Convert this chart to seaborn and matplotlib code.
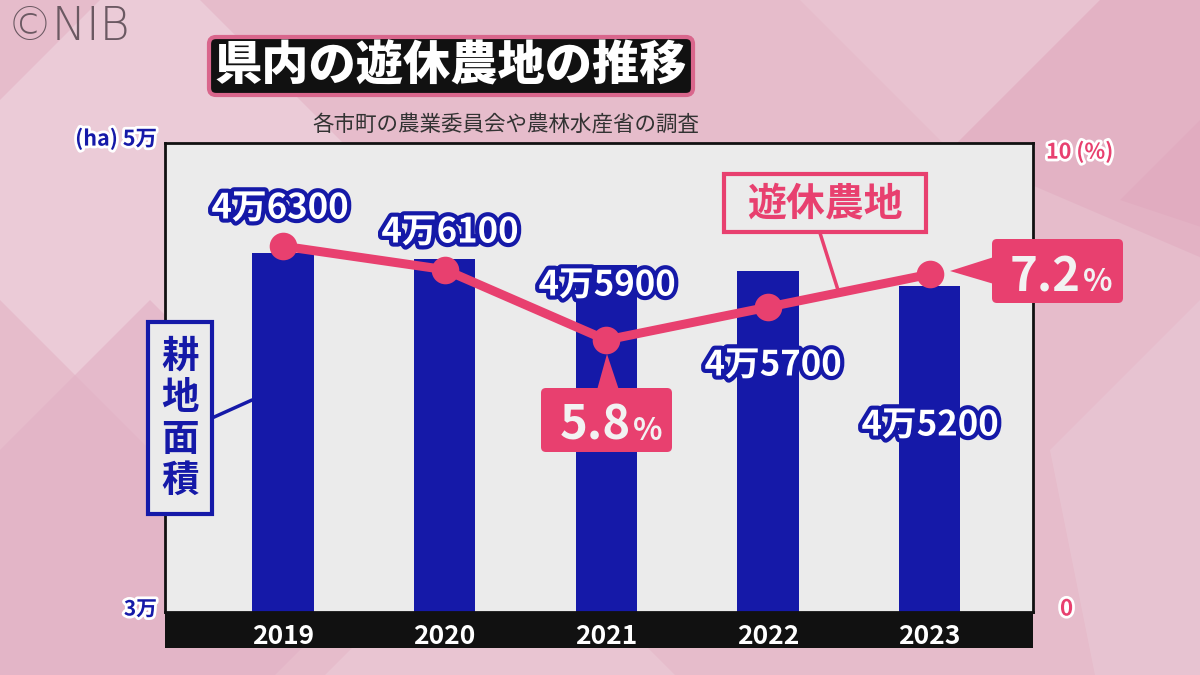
import numpy as np
import pandas as pd
import matplotlib
matplotlib.use("Agg")
import matplotlib.pyplot as plt
import seaborn as sns
from matplotlib.patches import FancyBboxPatch, Polygon, Rectangle
import matplotlib.patheffects as pe

# ---- data ----
years = ["2019", "2020", "2021", "2022", "2023"]
area_ha = [46300, 46100, 45900, 45700, 45200]
area_labels = ["4万6300", "4万6100", "4万5900", "4万5700", "4万5200"]
idle_rate = [7.8, 7.3, 5.8, 6.5, 7.2]

title = "県内の遊休農地の推移"
subtitle = "各市町の農業委員会や農林水産省の調査"

sns.set_theme(style="white")
plt.rcParams["font.family"] = ["Noto Sans CJK JP", "DejaVu Sans"]

W, H = 1200, 675
fig = plt.figure(figsize=(12, 6.75), dpi=100)
fig.patch.set_facecolor("#e6bccb")

BLUE = "#1519a8"
PINK = "#e8406f"

# ---- background texture ----
bg = fig.add_axes([0, 0, 1, 1], zorder=-5)
bg.set_xlim(0, W)
bg.set_ylim(H, 0)
bg.axis("off")
shapes = [
    ([(-100, 200), (150, -50), (400, 200), (150, 450)], "#edd0db", 0.8),
    ([(700, -100), (950, 150), (1200, -100)], "#e9c3d1", 0.9),
    ([(950, 150), (1200, -100), (1300, 0), (1300, 300)], "#e2aec2", 0.7),
    ([(1050, 450), (1300, 200), (1300, 700), (1100, 700)], "#e8c6d3", 0.8),
    ([(-50, 500), (150, 300), (400, 550), (250, 700), (0, 700)], "#e3b3c6", 0.7),
    ([(300, 700), (500, 500), (700, 700)], "#ecccd8", 0.6),
    ([(1120, 200), (1250, 70), (1300, 120), (1300, 260)], "#e0a9be", 0.6),
]
for pts, c, a in shapes:
    bg.add_patch(Polygon(pts, closed=True, facecolor=c, edgecolor="none", alpha=a))

# ---- main chart ----
df = pd.DataFrame({"year": years, "area": area_ha, "rate": idle_rate})

L, R, T, B = 165, 1033, 143, 612
ax = fig.add_axes([L / W, (H - B) / H, (R - L) / W, (B - T) / H])
sns.barplot(data=df, x="year", y="area", color=BLUE, saturation=1,
            width=0.38, ax=ax, zorder=2, linewidth=0, edgecolor="none")
ax.set_facecolor("#ebebeb")
ax.set_ylim(34250, 50000)
ax.set_yticks([])
ax.set_xlabel("")
ax.set_ylabel("")
for s in ax.spines.values():
    s.set_color("#111111")
    s.set_linewidth(2)

ax2 = ax.twinx()
sns.pointplot(data=df, x="year", y="rate", color=PINK, ax=ax2,
              markers="o", markersize=15, linewidth=6.5, zorder=5)
ax2.set_ylim(0, 10)
ax2.set_yticks([])
ax2.set_ylabel("")
ax2.set_xlabel("")
for s in ax2.spines.values():
    s.set_visible(False)
ax.set_xlim(-0.73, 4.64)
ax2.set_xlim(-0.73, 4.64)
ax.tick_params(axis="x", length=0, pad=8, labelcolor="white", labelsize=19)
for lab in ax.get_xticklabels():
    lab.set_fontweight("bold")

# black year band
band_h = 36 / (B - T)
ax.add_patch(Rectangle((0, -band_h), 1, band_h, transform=ax.transAxes,
                       facecolor="#111111", edgecolor="none", clip_on=False, zorder=0.5))

# ---- overlay for annotations (pixel coordinates) ----
ov = fig.add_axes([0, 0, 1, 1], zorder=10)
ov.set_xlim(0, W)
ov.set_ylim(H, 0)
ov.axis("off")
ov.patch.set_alpha(0)

# logo
ov.text(7, 27, "©NIB", fontsize=33, color="#6b5962", va="center", ha="left",
        family=["DejaVu Sans"], fontweight="light")

# title box
ov.add_patch(FancyBboxPatch((209, 37), 484, 58, boxstyle="round,pad=0,rounding_size=7",
                            facecolor="#111111", edgecolor="#d9668c", linewidth=3))
ov.text(451, 66, title, fontsize=34, fontweight="heavy", color="white",
        ha="center", va="center")
ov.text(506, 125, subtitle, fontsize=15.5, color="#333333", ha="center", va="center")

# axis end labels
blue_fx = [pe.withStroke(linewidth=4, foreground="white")]
ov.text(157, 139, "(ha) 5万", fontsize=15.5, fontweight="bold", color=BLUE,
        ha="right", va="center", path_effects=blue_fx)
ov.text(157, 609, "3万", fontsize=15, fontweight="bold", color=BLUE,
        ha="right", va="center", path_effects=blue_fx)
ov.text(1046, 152, "10 (%)", fontsize=15.5, fontweight="bold", color=PINK,
        ha="left", va="center", path_effects=blue_fx)
ov.text(1060, 609, "0", fontsize=16, fontweight="bold", color=PINK,
        ha="left", va="center", path_effects=blue_fx)

# bar value labels
lab_pos = [(280, 208), (450, 232), (607, 285), (773, 365), (930, 425)]
lab_fx = [pe.withStroke(linewidth=6, foreground=BLUE)]
for (x, y), t in zip(lab_pos, area_labels):
    ov.text(x, y, t, fontsize=25, fontweight="bold", color="white",
            ha="center", va="center", path_effects=lab_fx)

# 5.8% callout
ov.add_patch(Polygon([(597, 390), (619, 390), (607, 354)], closed=True,
                     facecolor=PINK, edgecolor="none"))
ov.add_patch(FancyBboxPatch((541, 388), 131, 64, boxstyle="round,pad=0,rounding_size=5",
                            facecolor=PINK, edgecolor="none"))
ov.text(631, 440, f"{idle_rate[2]}", fontsize=34, fontweight="bold", color="#f2f2f2",
        ha="right", va="baseline")
ov.text(633, 440, "%", fontsize=22, fontweight="bold", color="#f2f2f2",
        ha="left", va="baseline")

# 7.2% callout
ov.add_patch(Polygon([(994, 257), (994, 284), (950, 271)], closed=True,
                     facecolor=PINK, edgecolor="none"))
ov.add_patch(FancyBboxPatch((992, 239), 131, 64, boxstyle="round,pad=0,rounding_size=5",
                            facecolor=PINK, edgecolor="none"))
ov.text(1081, 291, f"{idle_rate[4]}", fontsize=34, fontweight="bold", color="#f2f2f2",
        ha="right", va="baseline")
ov.text(1083, 291, "%", fontsize=22, fontweight="bold", color="#f2f2f2",
        ha="left", va="baseline")

# 遊休農地 label
ov.plot([820, 838], [233, 290], color=PINK, lw=2.5, zorder=1)
ov.add_patch(FancyBboxPatch((724, 174), 202, 58, boxstyle="square,pad=0",
                            facecolor="#ebebeb", edgecolor=PINK, linewidth=3, zorder=2))
ov.text(825, 204, "遊休農地", fontsize=28, fontweight="bold", color=PINK,
        ha="center", va="center", zorder=3)

# 耕地面積 label
ov.plot([212, 252], [418, 400], color=BLUE, lw=2.5, zorder=1)
ov.add_patch(FancyBboxPatch((148, 322), 64, 192, boxstyle="square,pad=0",
                            facecolor="#ebebeb", edgecolor=BLUE, linewidth=3, zorder=2))
for ch, yy in zip("耕地面積", [356, 398, 440, 480]):
    ov.text(180, yy, ch, fontsize=27, fontweight="bold", color=BLUE,
            ha="center", va="center", zorder=3)

fig.savefig("out.png", dpi=100, facecolor=fig.get_facecolor())
